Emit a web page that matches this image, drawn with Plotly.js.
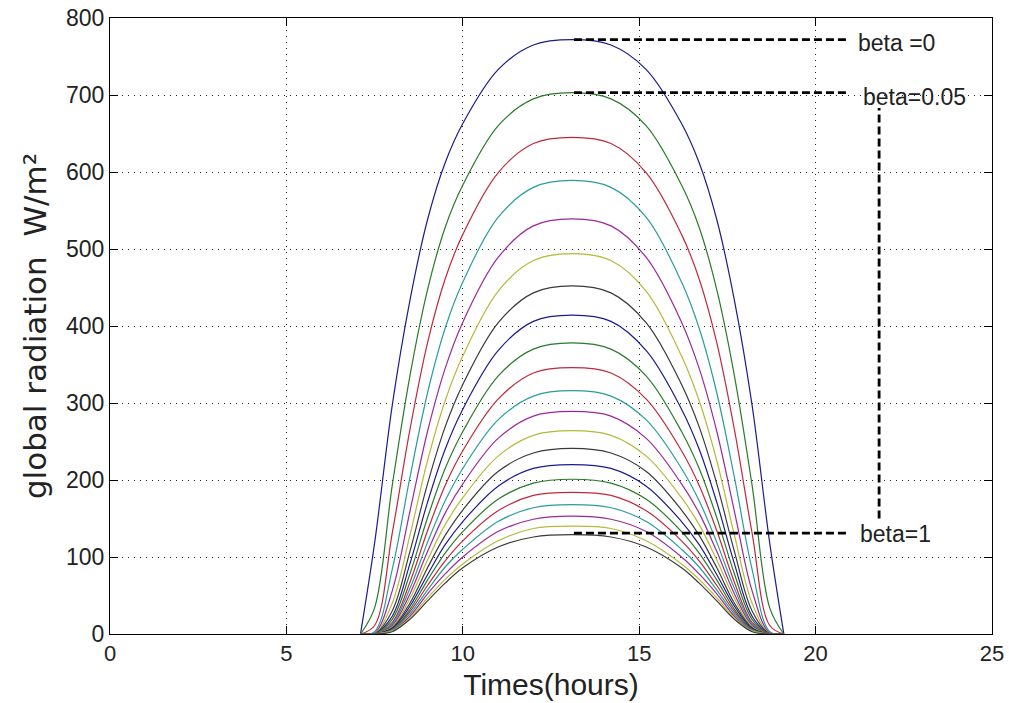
<!DOCTYPE html>
<html><head><meta charset="utf-8">
<script src="https://cdn.plot.ly/plotly-3.0.1.min.js"></script>
<style>html,body{margin:0;padding:0;background:#fff}</style>
</head><body>
<div id="chart" style="width:1009px;height:703px"></div>
<script>
// time of day (hours)
const hours = [7.1, 7.5, 8.0, 8.5, 9.0, 9.5, 10.0, 11.0, 12.0, 13.1, 14.2, 15.2, 16.2, 16.7, 17.2, 17.7, 18.2, 18.7, 19.1];
// beta values of the curves
const betaLabels = ['0','0.05','0.1','0.15','0.2','0.25','0.3','0.35','0.4','0.45','0.5','0.55','0.6','0.65','0.7','0.75','0.8','0.85','0.9','0.95','1'];
// global radiation (W/m²), one array per beta
const beta000 = [0,118,297,433,538,612,663,733,765,772,765,733,663,612,538,433,297,118,0];
const beta005 = [0,34,193,335,447,528,583,660,695,703,695,660,583,528,447,335,193,34,0];
const beta010 = [0,11,131,265,378,461,519,599,637,645,637,599,519,461,378,265,131,11,0];
const beta015 = [0,3,84,203,313,397,457,541,580,589,580,541,457,397,313,203,84,3,0];
const beta020 = [0,1,56,159,263,345,405,489,530,539,530,489,405,345,263,159,56,1,0];
const beta025 = [0,0,40,128,225,303,361,445,485,494,485,445,361,303,225,128,40,0,0];
const beta030 = [0,0,30,107,195,269,324,404,443,452,443,404,324,269,195,107,30,0,0];
const beta035 = [0,0,23,91,171,240,292,368,406,414,406,368,292,240,171,91,23,0,0];
const beta040 = [0,0,19,78,151,215,263,335,370,378,370,335,263,215,151,78,19,0,0];
const beta045 = [0,0,15,67,134,193,238,305,339,346,339,305,238,193,134,67,15,0,0];
const beta050 = [0,0,13,59,119,173,215,278,309,316,309,278,215,173,119,59,13,0,0];
const beta055 = [0,0,11,52,107,157,195,254,283,289,283,254,195,157,107,52,11,0,0];
const beta060 = [0,0,9,46,96,142,177,231,258,264,258,231,177,142,96,46,9,0,0];
const beta065 = [0,0,8,40,86,128,161,211,235,241,235,211,161,128,86,40,8,0,0];
const beta070 = [0,0,7,36,77,116,146,192,215,220,215,192,146,116,77,36,7,0,0];
const beta075 = [0,0,6,32,70,105,133,175,196,201,196,175,133,105,70,32,6,0,0];
const beta080 = [0,0,5,29,63,95,121,160,180,184,180,160,121,95,63,29,5,0,0];
const beta085 = [0,0,5,26,57,87,110,146,164,168,164,146,110,87,57,26,5,0,0];
const beta090 = [0,0,4,23,52,78,100,133,149,153,149,133,100,78,52,23,4,0,0];
const beta095 = [0,0,4,21,47,71,91,121,137,140,137,121,91,71,47,21,4,0,0];
const beta100 = [0,0,3,19,43,66,86,113,126,129,126,113,86,66,43,19,3,0,0];

const series = [beta000,beta005,beta010,beta015,beta020,beta025,beta030,beta035,beta040,beta045,beta050,
                beta055,beta060,beta065,beta070,beta075,beta080,beta085,beta090,beta095,beta100];
const colorOrder = ['#1c1c8c','#2a7a2a','#c0283c','#2a9c9c','#9a2a9a','#b8b83a','#3a3a3a'];

const traces = series.map((y, i) => ({
  x: hours, y: y, type: 'scatter', mode: 'lines', name: 'beta=' + betaLabels[i],
  line: {color: colorOrder[i % 7], width: 1.2, shape: 'spline', smoothing: 1},
  hoverinfo: 'skip'
}));

const dashLine = {color: '#000', width: 2.8, dash: '8px,4px'};
const axisCommon = {
  showline: true, linecolor: '#000', linewidth: 1, mirror: 'ticks',
  ticks: 'inside', ticklen: 8, tickcolor: '#000', tickwidth: 1,
  showgrid: true, gridcolor: '#222', gridwidth: 1, griddash: '1px,5px',
  zeroline: false, fixedrange: true
};
const textFont = {family: 'Liberation Sans, Arial, sans-serif', size: 23, color: '#222'};

const layout = {
  width: 1009, height: 703,
  margin: {l: 110, r: 17, t: 18, b: 69},
  paper_bgcolor: '#fff', plot_bgcolor: '#fff',
  showlegend: false,
  xaxis: Object.assign({}, axisCommon, {
    range: [0, 25], tickmode: 'array', tickvals: [0,5,10,15,20,25],
    tickfont: {family: 'Liberation Sans Narrow, Liberation Sans, Arial, sans-serif', size: 22, color: '#222'},
    title: {text: 'Times(hours)', font: {family: 'Liberation Sans Narrow, Liberation Sans, Arial, sans-serif', size: 30, color: '#222'}, standoff: 8}
  }),
  yaxis: Object.assign({}, axisCommon, {
    range: [0, 800], tickmode: 'array', tickvals: [0,100,200,300,400,500,600,700,800],
    tickfont: {family: 'Liberation Sans, Arial, sans-serif', size: 23, color: '#222'},
    title: {text: 'global radiation  W/m²', font: {family: 'DejaVu Sans, sans-serif', size: 31, color: '#222'}, standoff: 10}
  }),
  shapes: [
    {type: 'line', xref: 'x', yref: 'y', x0: 13.15, x1: 20.95, y0: 772, y1: 772, line: dashLine},
    {type: 'line', xref: 'x', yref: 'y', x0: 13.15, x1: 20.95, y0: 703, y1: 703, line: dashLine},
    {type: 'line', xref: 'x', yref: 'y', x0: 13.15, x1: 20.95, y0: 131, y1: 131, line: dashLine},
    {type: 'line', xref: 'x', yref: 'y', x0: 21.8, x1: 21.8, y0: 150, y1: 683, line: dashLine}
  ],
  annotations: [
    {xref: 'x', yref: 'y', x: 21.15, y: 767, text: 'beta =0', showarrow: false, xanchor: 'left', yanchor: 'middle', font: textFont},
    {xref: 'x', yref: 'y', x: 21.3, y: 697, text: 'beta=0.05', showarrow: false, xanchor: 'left', yanchor: 'middle', font: textFont},
    {xref: 'x', yref: 'y', x: 21.2, y: 130, text: 'beta=1', showarrow: false, xanchor: 'left', yanchor: 'middle', font: textFont}
  ]
};

Plotly.newPlot('chart', traces, layout, {displayModeBar: false, staticPlot: true});
</script>
</body></html>
